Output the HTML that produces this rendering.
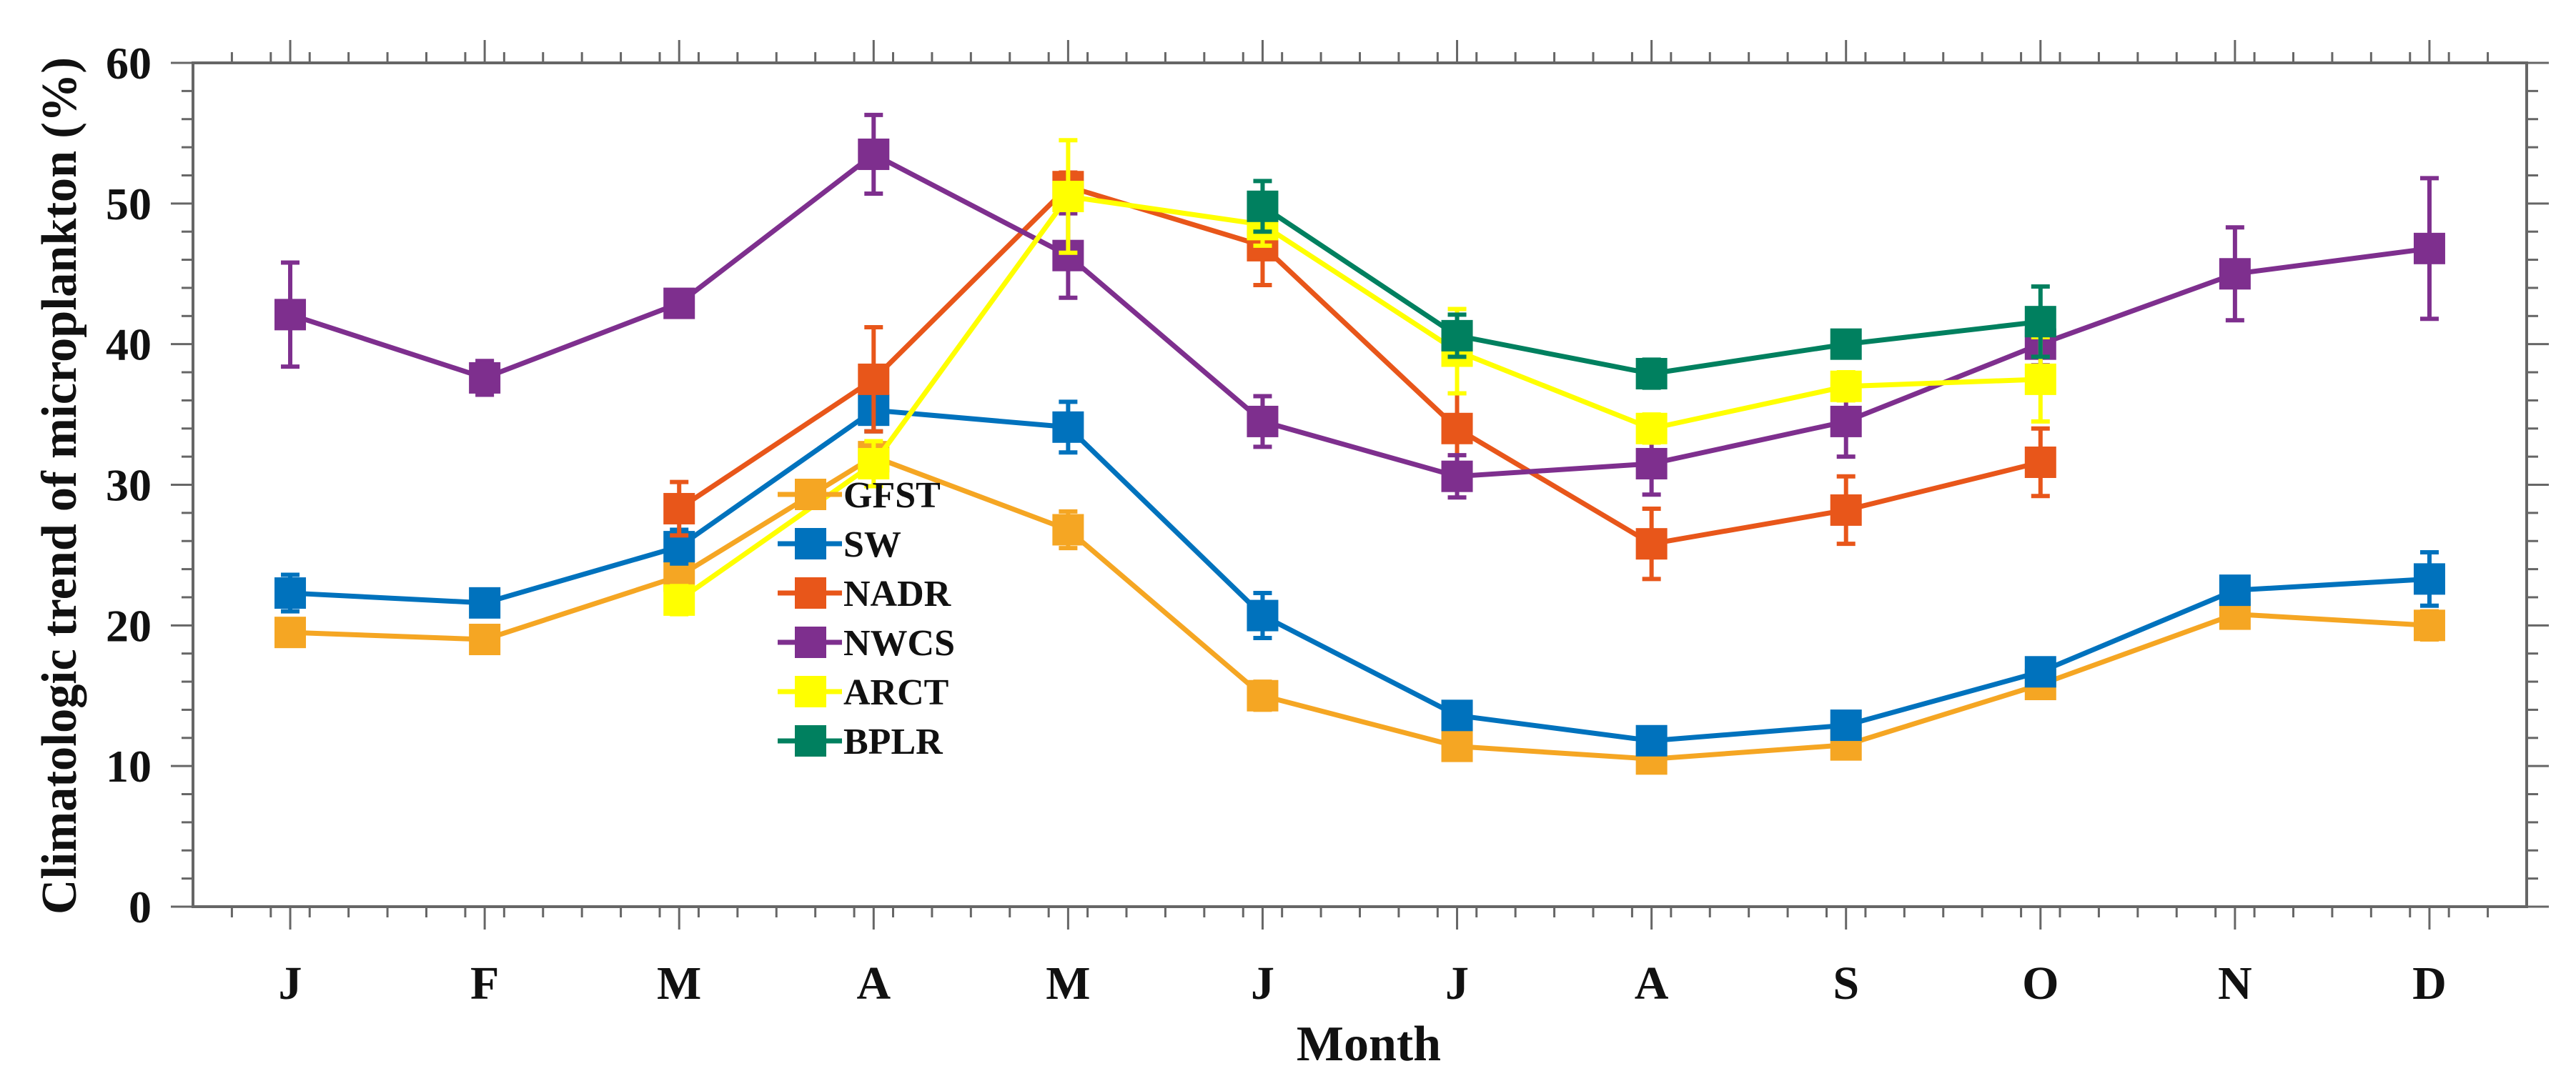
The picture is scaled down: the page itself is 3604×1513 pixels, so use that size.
<!DOCTYPE html>
<html><head><meta charset="utf-8"><style>
html,body{margin:0;padding:0;background:#fff;}
svg{display:block;font-family:"Liberation Serif",serif;}
</style></head><body>
<svg id="chart" width="3604" height="1513" xmlns="http://www.w3.org/2000/svg">
<rect width="3604" height="1513" fill="#fff"/>
<g id="axes"></g>
<g id="series"></g>
<g id="legend"></g>
<text transform="translate(106,680) rotate(-90)" text-anchor="middle" font-size="70" font-weight="bold" fill="#111" textLength="1200" lengthAdjust="spacingAndGlyphs">Climatologic trend of microplankton (%)</text>
<text x="1915" y="1484" text-anchor="middle" font-size="70" font-weight="bold" fill="#111">Month</text>
</svg>
<script>
const months = ["J","F","M","A","M","J","J","A","S","O","N","D"];
const yTicks = [0,10,20,30,40,50,60];
const seriesNames = ["GFST","SW","NADR","NWCS","ARCT","BPLR"];
const seriesColors = ["#F5A623","#0072BD","#E8561A","#7E2F8E","#FFFF00","#00805F"];
const gfst = [19.5,19,23.5,32,26.8,15,11.4,10.5,11.5,15.8,20.8,20];
const gfstErr = [0.7,0.6,0.8,1,1.3,1,0.8,0.6,0.6,0.8,0.7,1];
const sw = [22.3,21.6,25.6,35.3,34.1,20.7,13.6,11.8,12.9,16.7,22.5,23.3];
const swErr = [1.3,0.9,1.2,1.5,1.8,1.6,0.8,0.7,0.7,0.8,0.9,1.9];
const nadr = [null,null,28.3,37.5,51.2,47,34,25.8,28.2,31.6,null,null];
const nadrErr = [0,0,1.9,3.7,1,2.8,2.5,2.5,2.4,2.4,0,0];
const nwcs = [42.1,37.6,42.9,53.5,46.3,34.5,30.6,31.5,34.5,40,45,46.8];
const nwcsErr = [3.7,1.2,0.5,2.8,3,1.8,1.5,2.2,2.5,1.5,3.3,5];
const arct = [null,null,21.8,31.5,50.5,48.5,39.5,34,37,37.5,null,null];
const arctErr = [0,0,1,1.6,4,1.5,3,1,1,3,0,0];
const bplr = [null,null,null,null,null,49.8,40.6,37.9,40,41.6,null,null];
const bplrErr = [0,0,0,0,0,1.8,1.5,1,0.7,2.5,0,0];
const allVals = [gfst,sw,nadr,nwcs,arct,bplr];
const allErr = [gfstErr,swErr,nadrErr,nwcsErr,arctErr,bplrErr];

const NS="http://www.w3.org/2000/svg";
const L=270,R=3535,T=88,B=1269;
function xs(i){return L+(i+0.5)*(R-L)/12;}
function ys(v){return B-v*(B-T)/60;}
function mk(tag,attrs,parent){const e=document.createElementNS(NS,tag);for(const k in attrs)e.setAttribute(k,attrs[k]);parent.appendChild(e);return e;}
const axes=document.getElementById('axes');
const AX="#666";
let fr=mk('rect',{x:L,y:T,width:R-L,height:B-T,fill:'none',stroke:AX,'stroke-width':4},axes);


for(let v=0;v<=60;v+=2){
  const major=v%10===0, len=major?31:16, y=ys(v);
  let t=mk('line',{x1:L-len,x2:L,y1:y,y2:y,stroke:AX,'stroke-width':3},axes);
  
  
  let t2=mk('line',{x1:R,x2:R+len,y1:y,y2:y,stroke:AX,'stroke-width':3},axes);
  
  
}
yTicks.forEach(v=>{
  let t=mk('text',{x:212,y:ys(v)+22,'text-anchor':'end','font-size':64,'font-weight':'bold',fill:'#111'},axes);
  t.textContent=v;
  
  
});
for(let k=1;k<60;k++){
  const x=L+(k/5)*(R-L)/12;
  let t=mk('line',{x1:x,x2:x,y1:B,y2:B+15,stroke:AX,'stroke-width':3},axes);
  
  
  let t2=mk('line',{x1:x,x2:x,y1:T,y2:T-15,stroke:AX,'stroke-width':3},axes);
  
  
}
months.forEach((m,i)=>{
  const x=xs(i);
  let t=mk('line',{x1:x,x2:x,y1:B,y2:B+32,stroke:AX,'stroke-width':3},axes);
  
  
  let t2=mk('line',{x1:x,x2:x,y1:T,y2:T-32,stroke:AX,'stroke-width':3},axes);
  
  
  let lb=mk('text',{x:x,y:1398,'text-anchor':'middle','font-size':66,'font-weight':'bold',fill:'#111'},axes);
  lb.textContent=m;
  
  
});
const sg=document.getElementById('series');
const MS=44;
allVals.forEach((vals,s)=>{
  const col=seriesColors[s], errs=allErr[s];
  const g=mk('g',{},sg);
  
  
  let pts=[];
  vals.forEach((v,i)=>{ if(v!==null) pts.push(xs(i)+','+ys(v)); });
  let pl=mk('polyline',{points:pts.join(' '),fill:'none',stroke:col,'stroke-width':7,'stroke-linejoin':'round'},g);
  
  
  vals.forEach((v,i)=>{
    if(v===null)return;
    const x=xs(i),e=errs[i];
    let eb=mk('path',{d:`M${x},${ys(v-e)}V${ys(v+e)}M${x-13},${ys(v-e)}H${x+13}M${x-13},${ys(v+e)}H${x+13}`,stroke:col,'stroke-width':6,fill:'none'},g);
    
    
    let r=mk('rect',{x:x-MS/2,y:ys(v)-MS/2,width:MS,height:MS,fill:col},g);
    
    
  });
});
const lg=document.getElementById('legend');
seriesNames.forEach((n,s)=>{
  const y=692+s*69;
  const g=mk('g',{},lg);
  
  
  mk('line',{x1:1088,x2:1178,y1:y,y2:y,stroke:seriesColors[s],'stroke-width':7},g);
  mk('rect',{x:1134-MS/2,y:y-MS/2,width:MS,height:MS,fill:seriesColors[s]},g);
  let t=mk('text',{x:1180,y:y+18,'font-size':52,'font-weight':'bold',fill:'#111'},g);
  t.textContent=n;
});
</script>
</body></html>
